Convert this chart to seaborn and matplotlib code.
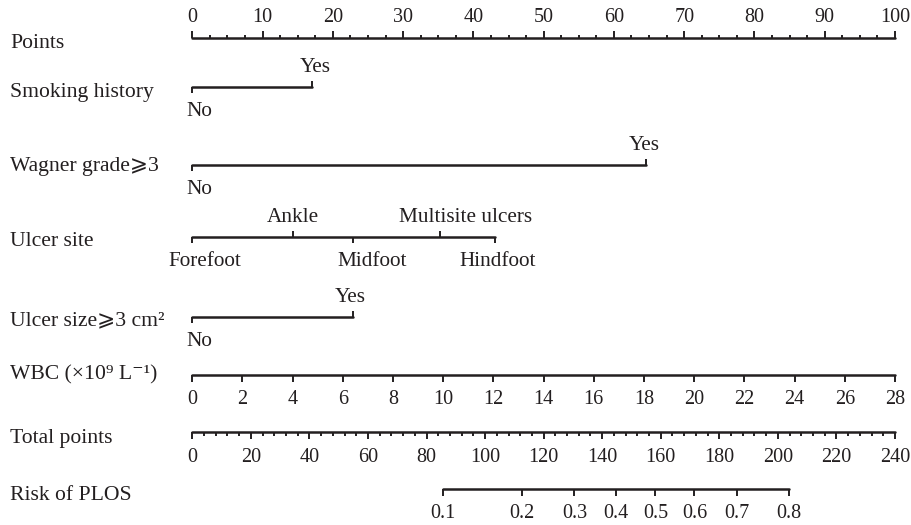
import matplotlib
matplotlib.use("Agg")
import matplotlib.pyplot as plt
import seaborn as sns
import pandas as pd
import numpy as np

# ---- data (in "Points" units 0-100 unless noted) ----
smoking_levels = ["No", "Yes"]
smoking_points = [0, 17.0]

wagner_levels = ["No", "Yes"]
wagner_points = [0, 64.6]

site_levels = ["Forefoot", "Ankle", "Midfoot", "Multisite ulcers", "Hindfoot"]
site_points = [0, 14.3, 22.9, 35.2, 43.1]

size_levels = ["No", "Yes"]
size_points = [0, 22.8]

wbc_ticks = list(range(0, 29, 2))
wbc_max = 28                     # WBC 28 -> 100 points

total_ticks = list(range(0, 241, 20))
total_max = 240

risk_ticks = [0.1, 0.2, 0.3, 0.4, 0.5, 0.6, 0.7, 0.8]
risk_total_points = [85.7, 112.6, 130.5, 144.8, 158.2, 171.5, 186.0, 203.8]

# ---- general style ----
sns.set_theme(style="white")
plt.rcParams['font.family'] = ['Liberation Serif', 'DejaVu Serif', 'DejaVu Sans']

INK = "#231f20"
FS_NUM = 14.5      # tick numbers
FS_LEV = 15.3      # level labels
FS_ROW = 15.6      # row names

fig = plt.figure(figsize=(9.11, 5.25), dpi=100)
ax = fig.add_axes([0, 0, 1, 1])
# x in points units, y in pixels (top = 0)
PX = 7.027
X0 = 192.3
ax.set_xlim(-X0 / PX, (911 - X0) / PX)
ax.set_ylim(525, 0)
ax.axis("off")

def hline(x0, x1, y):
    seg = pd.DataFrame({"x": [x0, x1], "y": [y, y]})
    sns.lineplot(data=seg, x="x", y="y", color=INK, lw=1.8, sort=False,
                 estimator=None, ax=ax)

def tick(x, y, length):
    ax.plot([x, x], [y, y + length], color=INK, lw=1.4, solid_capstyle="butt")

def row_label(text, y):
    ax.text(-X0 / PX + 10 / PX, y + 3, text, ha="left", va="center",
            fontsize=FS_ROW, color=INK)

# ---- Points ----
y = 38
hline(0, 100, y)
for v in np.arange(0, 100.1, 2.5):
    major = v % 10 == 0
    tick(v, y, -7 if major else -3.5)
    if major:
        ax.text(v, y - 20, f"{int(v)}", ha="center", va="center", fontsize=FS_NUM, color=INK)
row_label("Points", 40)

# ---- categorical rows ----
def cat_row(levels, pts, y, up_flags, dx):
    hline(min(pts), max(pts), y)
    for lev, p, up, d in zip(levels, pts, up_flags, dx):
        tick(p, y, -6 if up else 6)
        ty = y - 19 if up else y + 25
        ax.text(p + d / PX, ty, lev, ha="center", va="center", fontsize=FS_LEV, color=INK)

cat_row(smoking_levels, smoking_points, 87, [False, True], [7, 3])
row_label("Smoking history", 90)

cat_row(wagner_levels, wagner_points, 165, [False, True], [7, -2])
row_label("Wagner grade⩾3", 164)

cat_row(site_levels, site_points, 237, [False, True, False, True, False],
        [13, 0, 19, 26, 2])
row_label("Ulcer site", 238)

cat_row(size_levels, size_points, 317, [False, True], [7, -2])
row_label("Ulcer size⩾3 cm²", 318)

# ---- WBC ----
y = 375
hline(0, 100, y)
for v in wbc_ticks:
    xp = v * 100 / wbc_max
    tick(xp, y, 7)
    ax.text(xp, y + 24, f"{v}", ha="center", va="center", fontsize=FS_NUM, color=INK)
row_label("WBC (×10⁹ L⁻¹)", 372)

# ---- Total points ----
y = 432
hline(0, 100, y)
for v in range(0, total_max + 1, 4):
    xp = v * 100 / total_max
    tick(xp, y, 7 if v % 20 == 0 else 3.5)
for v in total_ticks:
    ax.text(v * 100 / total_max, y + 25, f"{v}", ha="center", va="center",
            fontsize=FS_NUM, color=INK)
row_label("Total points", 435)

# ---- Risk ----
y = 489
rp = [v * 100 / total_max for v in risk_total_points]
hline(rp[0], rp[-1], y)
for r, xp in zip(risk_ticks, rp):
    tick(xp, y, 7)
    ax.text(xp, y + 25, f"{r:g}", ha="center", va="center", fontsize=FS_NUM, color=INK)
row_label("Risk of PLOS", 492)

fig.savefig("out.png", dpi=100, facecolor="white")
